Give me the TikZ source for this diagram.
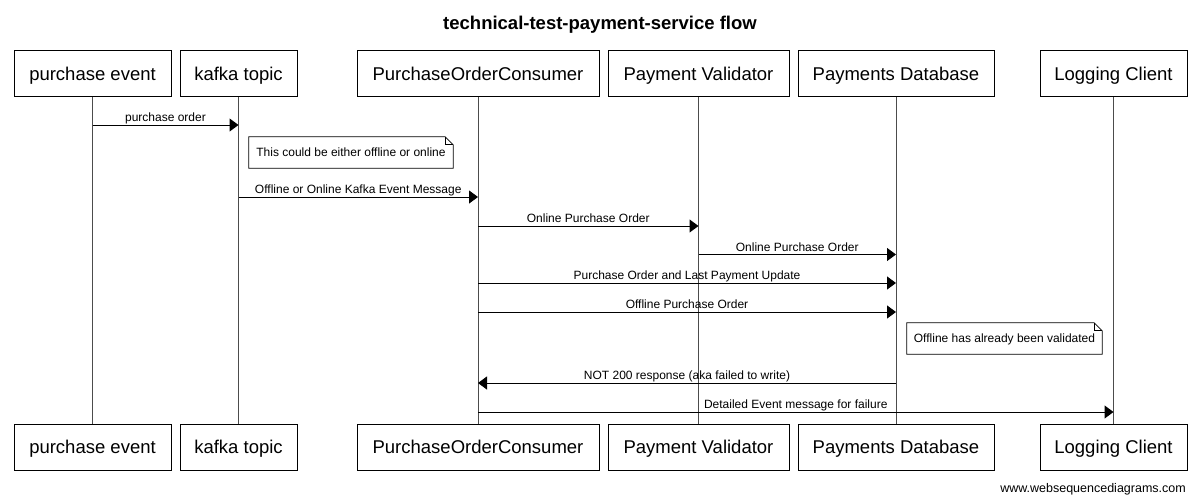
\documentclass[tikz,border=0pt]{standalone}
\usepackage{fontspec}
\setmainfont{Liberation Sans}
\usetikzlibrary{arrows.meta,calc}
\tikzset{
  actor/.style={draw=black, line width=1pt, fill=white, minimum height=46pt, inner sep=0pt,
    text height=13.2pt, text depth=0pt, font=\fontsize{18.5}{20}\selectfont},
  lifeline/.style={draw=black!70, line width=1pt},
  msg/.style={draw=black, line width=1pt, -{Triangle[length=9pt,width=13pt]}},
  lab/.style={font=\fontsize{12}{14}\selectfont, inner sep=0pt, anchor=base},
  notebox/.style={inner sep=0pt, text height=8.6pt, text depth=0pt, font=\fontsize{12}{14}\selectfont},
  noteline/.style={draw=black, line width=0.8pt},
}
\newcommand{\notefold}[1]{%
  \draw[noteline] (#1.south west) -- (#1.south east) -- ([yshift=-8pt]#1.north east)
    -- ([xshift=-8pt]#1.north east) -- (#1.north west) -- cycle;
  \draw[noteline] ([xshift=-8pt]#1.north east) -- ([xshift=-8pt,yshift=-8pt]#1.north east)
    -- ([yshift=-8pt]#1.north east);
}
\begin{document}
\begin{tikzpicture}[x=1pt,y=-1pt]
\useasboundingbox[fill=white] (0,0) rectangle (1200,501);

% title
\node[font=\bfseries\fontsize{18.5}{20}\selectfont, anchor=base, inner sep=0pt] (title) at (600,29.6) {technical-test-payment-service flow};

% top actors
\node[actor, minimum width=157pt] (peT) at (92.5,73.5) {purchase event};
\node[actor, minimum width=117pt] (ktT) at (238.5,73.5) {kafka topic};
\node[actor, minimum width=242pt] (pcT) at (478,73.5) {PurchaseOrderConsumer};
\node[actor, minimum width=181pt] (pvT) at (698.5,73.5) {Payment Validator};
\node[actor, minimum width=196pt] (pdT) at (896,73.5) {Payments Database};
\node[actor, minimum width=147pt] (lcT) at (1113.5,73.5) {Logging Client};

% bottom actors
\node[actor, minimum width=157pt] (peB) at (92.5,447) {purchase event};
\node[actor, minimum width=117pt] (ktB) at (238.5,447) {kafka topic};
\node[actor, minimum width=242pt] (pcB) at (478,447) {PurchaseOrderConsumer};
\node[actor, minimum width=181pt] (pvB) at (698.5,447) {Payment Validator};
\node[actor, minimum width=196pt] (pdB) at (896,447) {Payments Database};
\node[actor, minimum width=147pt] (lcB) at (1113.5,447) {Logging Client};

% lifelines
\foreach \a in {pe,kt,pc,pv,pd,lc}{
  \draw[lifeline] (\a T.south) -- (\a B.north);
}

% message rows
\coordinate (r1) at (0,125);
\coordinate (r2) at (0,197);
\coordinate (r3) at (0,226);
\coordinate (r4) at (0,254.5);
\coordinate (r5) at (0,283);
\coordinate (r6) at (0,312);
\coordinate (r7) at (0,383);
\coordinate (r8) at (0,412);

\draw[msg] (peT |- r1) -- node[lab, pos=0.5, yshift=4pt] {purchase order} (ktT |- r1);

\node[notebox, minimum width=204pt, minimum height=31pt] (n1) at (351,152.5) {This could be either offline or online};
\notefold{n1}

\draw[msg] (ktT |- r2) -- node[lab, pos=0.5, yshift=3.5pt] {Offline or Online Kafka Event Message} (pcT |- r2);
\draw[msg] (pcT |- r3) -- node[lab, pos=0.5, yshift=3.5pt] {Online Purchase Order} (pvT |- r3);
\draw[msg] (pvT |- r4) -- node[lab, pos=0.5, yshift=3.5pt] {Online Purchase Order} (pdT |- r4);
\draw[msg] (pcT |- r5) -- node[lab, pos=0.5, yshift=3.5pt] {Purchase Order and Last Payment Update} (pdT |- r5);
\draw[msg] (pcT |- r6) -- node[lab, pos=0.5, yshift=3.5pt] {Offline Purchase Order} (pdT |- r6);

\node[notebox, minimum width=195pt, minimum height=31pt] (n2) at (1004.5,338.5) {Offline has already been validated};
\notefold{n2}

\draw[msg] (pdT |- r7) -- node[lab, pos=0.5, yshift=3.5pt] {NOT 200 response (aka failed to write)} (pcT |- r7);
\draw[msg] (pcT |- r8) -- node[lab, pos=0.5, yshift=3.5pt] {Detailed Event message for failure} (lcT |- r8);

% watermark
\node[font=\fontsize{12.5}{14}\selectfont, anchor=base east, inner sep=0pt] (wm) at (1186,492.5) {www.websequencediagrams.com};
\end{tikzpicture}
\end{document}
